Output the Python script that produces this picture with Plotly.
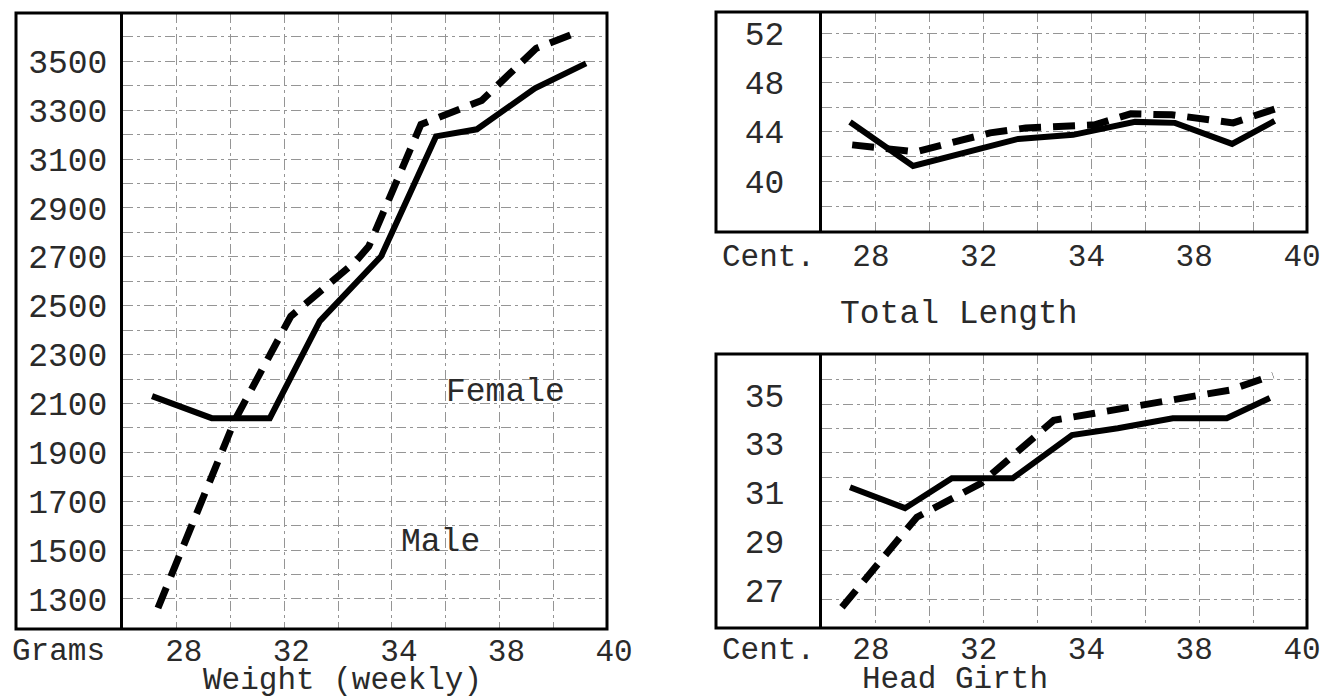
import plotly.graph_objects as go

W, H = 1325, 698

# ---------------- data (x = position on the week grid, 0 = axis line) ----------------
week_labels = ["28", "32", "34", "38", "40"]
week_label_pos = [1, 3, 5, 7, 9]

# Weight (grams)
weight_solid_x = [0.54, 1.65, 2.73, 3.66, 4.80, 5.82, 6.58, 7.66, 8.61]
weight_solid = [2130, 2040, 2040, 2437, 2702, 3193, 3222, 3390, 3492]
weight_dashed_x = [0.65, 2.08, 3.12, 4.33, 4.57, 5.54, 6.67, 7.68, 8.40]
weight_dashed = [1263, 2032, 2457, 2682, 2743, 3242, 3340, 3553, 3615]
weight_labels = [1300, 1500, 1700, 1900, 2100, 2300, 2500, 2700, 2900, 3100, 3300, 3500]

# Total length (cm)
length_solid_x = [0.52, 1.69, 3.64, 4.66, 5.81, 6.55, 7.61, 8.40]
length_solid = [44.8, 41.25, 43.43, 43.76, 44.81, 44.73, 43.03, 44.89]
length_dashed_x = [0.56, 1.73, 3.12, 3.78, 5.06, 5.73, 6.49, 7.63, 8.52]
length_dashed = [42.95, 42.38, 43.92, 44.32, 44.57, 45.46, 45.38, 44.73, 46.02]
length_labels = [40, 44, 48, 52]

# Head girth (cm)
girth_solid_x = [0.52, 1.54, 2.41, 3.54, 4.64, 5.49, 6.51, 7.51, 8.31]
girth_solid = [31.59, 30.73, 31.96, 31.96, 33.73, 34.01, 34.42, 34.42, 35.25]
girth_dashed_x = [0.37, 1.76, 2.95, 4.30, 5.06, 6.42, 7.57, 8.37]
girth_dashed = [26.66, 30.36, 31.75, 34.34, 34.63, 35.16, 35.58, 36.19]
girth_labels = [27, 29, 31, 33, 35]

# ---------------- styling ----------------
FONT = "Liberation Mono"
TXT = "#2a2a2a"
FS = 33
FSX = 31
GRID = "#959595"
GDASH = "10px,4px,3px,4px"


def px_x(p):
    return p / W


def px_y(p):
    return 1 - p / H


fig = go.Figure()

solid_style = dict(color="black", width=6)
dash_style = dict(color="black", width=7, dash="22px,12px")

panels = [
    ("x", "y", weight_solid_x, weight_solid, weight_dashed_x, weight_dashed),
    ("x2", "y2", length_solid_x, length_solid, length_dashed_x, length_dashed),
    ("x3", "y3", girth_solid_x, girth_solid, girth_dashed_x, girth_dashed),
]
for xa, ya, sx, sy, dx, dy in panels:
    fig.add_trace(go.Scatter(x=sx, y=sy, mode="lines", line=solid_style,
                             xaxis=xa, yaxis=ya, name="Female", showlegend=False))
    fig.add_trace(go.Scatter(x=dx, y=dy, mode="lines", line=dash_style,
                             xaxis=xa, yaxis=ya, name="Male", showlegend=False))

grid_x = list(range(1, 10))
grid_x_text = [week_labels[week_label_pos.index(g)] if g in week_label_pos else "" for g in grid_x]

common_x = dict(range=[0, 9], tickmode="array", tickvals=grid_x, ticktext=grid_x_text,
                showgrid=True, gridcolor=GRID, gridwidth=1, griddash=GDASH,
                zeroline=False, showline=False, ticks="",
                ticklabeloverflow="allow",
                tickfont=dict(family=FONT, size=FSX, color=TXT),
                automargin=False)

wgrid = list(range(1300, 3700, 100))
wtext = [str(v) if v in weight_labels else "" for v in wgrid]
lgrid = list(range(38, 54, 2))
ltext = [str(v) if v in length_labels else "" for v in lgrid]
ggrid = list(range(27, 37))
gtext = [str(v) if v in girth_labels else "" for v in ggrid]

common_y = dict(tickmode="array", showgrid=True, gridcolor=GRID, gridwidth=1, griddash=GDASH,
                zeroline=False, showline=True, linecolor="black", linewidth=3,
                ticks="outside", tickcolor="rgba(0,0,0,0)",
                tickfont=dict(family=FONT, size=FS, color=TXT), automargin=False)

fig.update_layout(
    width=W, height=H, autosize=False,
    margin=dict(l=0, r=0, t=0, b=0),
    paper_bgcolor="white", plot_bgcolor="white",
    xaxis=dict(domain=[px_x(123), px_x(607)], anchor="y", ticklabelstandoff=0,
               ticklabelshift=7, **common_x),
    yaxis=dict(domain=[px_y(629), px_y(13)], anchor="x", range=[1177, 3698],
               tickvals=wgrid, ticktext=wtext, ticklen=6, **common_y),
    xaxis2=dict(domain=[px_x(822), px_x(1307)], anchor="y2", ticklabelstandoff=2,
                ticklabelshift=-5, **common_x),
    yaxis2=dict(domain=[px_y(232), px_y(12)], anchor="x2", range=[35.9, 53.7],
                tickvals=lgrid, ticktext=ltext, ticklen=28, **common_y),
    xaxis3=dict(domain=[px_x(822), px_x(1307)], anchor="y3", ticklabelstandoff=-1,
                ticklabelshift=-5, **common_x),
    yaxis3=dict(domain=[px_y(628), px_y(354)], anchor="x3", range=[25.81, 37.06],
                tickvals=ggrid, ticktext=gtext, ticklen=28, ticklabelshift=-9, **common_y),
)

# frames
frames = [(16, 607, 13, 629), (716, 1307, 12, 232), (716, 1307, 354, 628)]
for x0, x1, y0, y1 in frames:
    fig.add_shape(type="rect", xref="paper", yref="paper",
                  x0=px_x(x0), x1=px_x(x1), y0=px_y(y1), y1=px_y(y0),
                  line=dict(color="black", width=3), fillcolor="rgba(0,0,0,0)", layer="above")


def note(text, x, y, xanchor="center", size=FS):
    fig.add_annotation(text=text, xref="paper", yref="paper", x=px_x(x), y=px_y(y),
                       xanchor=xanchor, yanchor="middle", showarrow=False,
                       font=dict(family=FONT, size=size, color=TXT))


note("Grams", 10, 651, "left", size=FSX)
note("Weight (weekly)", 342, 680, size=FSX)
note("Cent.", 720, 257, "left", size=FSX)
note("Total Length", 959, 314)
note("Cent.", 720, 650, "left", size=FSX)
note("Head Girth", 955, 679, size=FSX)

fig.add_annotation(text="Female", x=7.12, y=2143, xref="x", yref="y", showarrow=False,
                   font=dict(family=FONT, size=FS, color=TXT))
fig.add_annotation(text="Male", x=5.91, y=1533, xref="x", yref="y", showarrow=False,
                   font=dict(family=FONT, size=FS, color=TXT))

fig.write_html("out.html", config={"displayModeBar": False},
               post_script="document.body.style.margin='0';document.body.style.overflow='hidden';")
